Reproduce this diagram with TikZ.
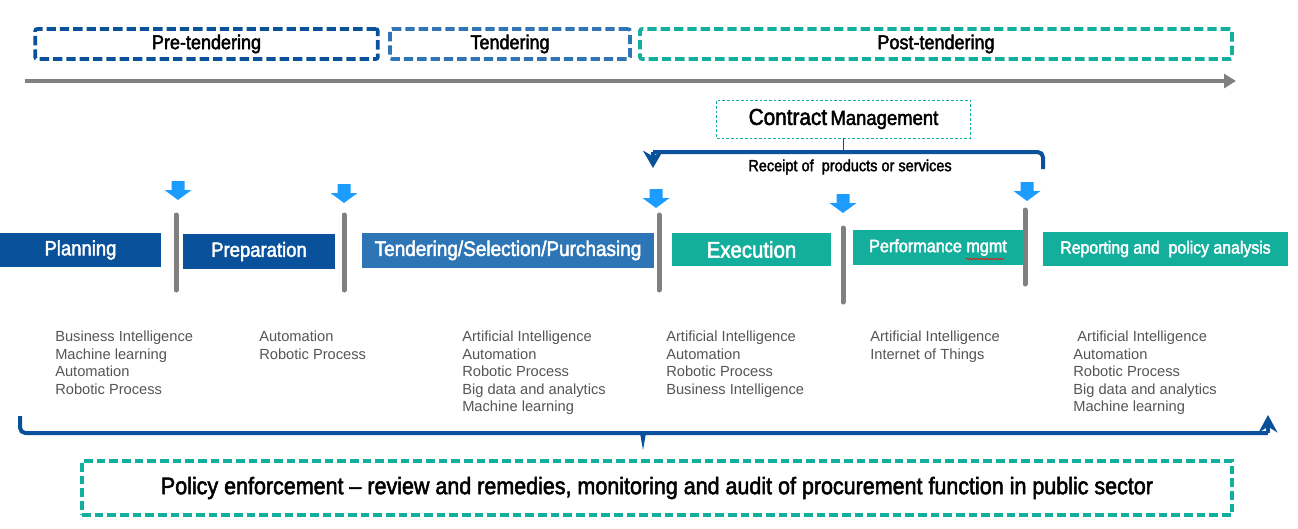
\documentclass[tikz,border=0pt]{standalone}
\usepackage{fontspec}
\setmainfont{Liberation Sans}
\newfontfamily\condfont{Liberation Sans}[FakeStretch=0.9, FakeBold=2.2]
\usetikzlibrary{arrows.meta,decorations.pathmorphing}
\definecolor{darkblue}{RGB}{9,81,155}
\definecolor{midblue}{RGB}{46,117,182}
\definecolor{tealgreen}{RGB}{20,174,156}
\definecolor{skyblue}{RGB}{28,156,255}
\definecolor{bargray}{RGB}{128,128,128}
\definecolor{listgray}{RGB}{85,85,85}
\begin{document}
\begin{tikzpicture}[x=0.75pt,y=-0.75pt,
  phase/.style={draw, dash pattern=on 7pt off 3pt, line width=2.8pt, rounded corners=1.5pt,
    minimum height=22.5pt, font=\condfont\fontsize{15}{18}\selectfont},
  stage/.style={text=white, inner sep=0pt, font=\condfont\fontsize{15.4}{18}\selectfont},
  tools/.style={anchor=north west, align=left, inner sep=0pt, text=listgray,
    font=\fontsize{11}{13.1}\selectfont},
  bar/.style={draw=bargray, line width=3.75pt, line cap=round},
  brace/.style={draw=darkblue, line width=3pt}]
\useasboundingbox (0,0) rectangle (1298,528);
% phases and time line
\node[phase, draw=darkblue, minimum width=257pt] at (206.5,44) (pre) {Pre-tendering};
\node[phase, draw=midblue, minimum width=180pt] at (510,44) (tend) {Tendering};
\node[phase, draw=tealgreen, minimum width=444pt] at (936,44) (post) {Post-tendering};
\coordinate (t0) at (25,81);
\coordinate (t1) at (1236,81);
\draw[bargray, line width=3pt, -{Triangle[length=9pt,width=10.5pt]}] (t0) -- (t1);
% contract management
\node[draw=tealgreen, dash pattern=on 2pt off 1.5pt, line width=0.6pt, minimum width=190pt,
  minimum height=28.5pt, font=\condfont] at (843.5,119) (cm)
  {{\fontsize{17.3}{20}\selectfont Contract} {\fontsize{15.4}{18}\selectfont Management}};
\node[font=\condfont\fontsize{12.1}{14}\selectfont] at (850,167) (rcpt) {Receipt of\ \ products or services};
\coordinate (bL) at (653,152);
\coordinate (bLend) at (653,168);
\coordinate (bRend) at (1043,169);
\draw[brace, rounded corners=4pt] (bRend) |- (bL);
\draw[brace, -{Stealth[length=13pt,width=15pt]}] (bL) -- (bLend);
\draw[darkblue, line width=1.2pt] (cm.south) -- (cm.south |- bL);
% drop arrows
\foreach \x/\y in {178/181, 344/184, 656/189, 843/194, 1027/182}
  \fill[skyblue] (\x-6.5,\y) -- (\x+6.5,\y) -- (\x+6.5,\y+9) -- (\x+13.5,\y+9) -- (\x,\y+19)
    -- (\x-13.5,\y+9) -- (\x-6.5,\y+9) -- cycle;
% stages
\node[stage, fill=darkblue, minimum width=120.75pt, minimum height=25.5pt] at (80.5,250) (plan) {Planning};
\node[stage, fill=darkblue, minimum width=114pt, minimum height=26.25pt] at (259,251.5) (prep) {Preparation};
\node[stage, fill=midblue, minimum width=219pt, minimum height=26.25pt,
  font=\condfont\fontsize{15.8}{18}\selectfont] at (508,250.5) (tsp) {Tendering/Selection/Purchasing};
\node[stage, fill=tealgreen, minimum width=119.25pt, minimum height=24.75pt,
  font=\condfont\fontsize{17}{20}\selectfont] at (751.5,249.5) (exec) {Execution};
\node[stage, fill=tealgreen, minimum width=127.5pt, minimum height=26.25pt,
  font=\condfont\fontsize{13.5}{16}\selectfont] at (938,247.5) (perf) {Performance mgmt};
\node[stage, fill=tealgreen, minimum width=183.75pt, minimum height=25.5pt,
  font=\condfont\fontsize{13.2}{16}\selectfont] at (1165.5,249) (rep) {Reporting and\ \ policy analysis};
\draw[red, line width=0.5pt, decorate, decoration={snake, amplitude=0.5pt, segment length=2.5pt}]
  (966,259) -- (1004,259);
% separators
\foreach \x/\ya/\yb in {176/215/290, 344/215/290, 659/215/290, 843/228/302, 1025/210/284}
  \draw[bar] (\x,\ya) -- (\x,\yb);
% technologies
\node[tools] at (55,331) (l1) {Business Intelligence\\Machine learning\\Automation\\Robotic Process};
\node[tools] at (259,331) (l2) {Automation\\Robotic Process};
\node[tools] at (462,331) (l3) {Artificial Intelligence\\Automation\\Robotic Process\\Big data and analytics\\Machine learning};
\node[tools] at (666,331) (l4) {Artificial Intelligence\\Automation\\Robotic Process\\Business Intelligence};
\node[tools] at (870,331) (l5) {Artificial Intelligence\\Internet of Things};
\node[tools] at (1073,331) (l6) {\ Artificial Intelligence\\Automation\\Robotic Process\\Big data and analytics\\Machine learning};
% policy enforcement
\coordinate (pL) at (20,416);
\coordinate (pLine) at (1268,433);
\coordinate (pR) at (1268,415);
\coordinate (pMid) at (643,433);
\draw[brace, rounded corners=4pt] (pL) |- (pLine);
\draw[brace, -{Stealth[length=13pt,width=14pt]}] (pLine) -- (pR);
\fill[darkblue] (pMid) ++(-3,0) -- ++(6,0) -- ++(-3,17) -- cycle;
\node[draw=tealgreen, dash pattern=on 6.5pt off 3pt, line width=2.8pt, minimum width=862.5pt,
  minimum height=40.5pt, font=\condfont\fontsize{17.9}{20}\selectfont] at (657,488) (pol)
  {Policy enforcement – review and remedies, monitoring and audit of procurement function in public sector};
\end{tikzpicture}
\end{document}
